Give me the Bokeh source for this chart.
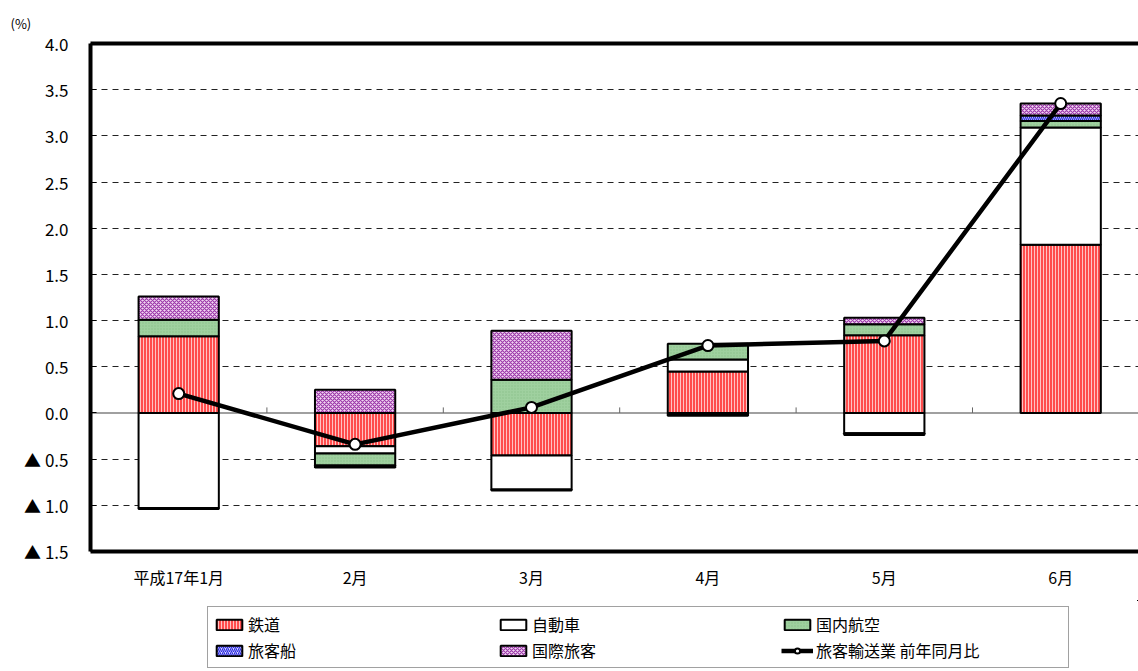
import numpy as np
from bokeh.plotting import figure
from bokeh.layouts import column
from bokeh.models import (Range1d, FixedTicker, CustomJSTickFormatter, LinearAxis,
                          Span, Legend, LegendItem)
from bokeh.embed import file_html
from bokeh.resources import INLINE

# ---- data ----
months = ["平成17年1月", "2月", "3月", "4月", "5月", "6月"]
rail   = [0.83, -0.36, -0.46, 0.45, 0.84, 1.82]    # 鉄道
auto   = [-1.03, -0.08, -0.37, 0.13, -0.22, 1.27]  # 自動車
air    = [0.18, -0.13, 0.36, 0.17, 0.12, 0.07]     # 国内航空
ship   = [-0.01, -0.02, -0.01, -0.01, -0.02, 0.06] # 旅客船
intl   = [0.25, 0.25, 0.53, -0.02, 0.07, 0.13]     # 国際旅客
total  = [0.21, -0.34, 0.06, 0.73, 0.78, 3.35]     # 旅客輸送業 前年同月比
series_names = ["鉄道", "自動車", "国内航空", "旅客船", "国際旅客"]
line_name = "旅客輸送業 前年同月比"
y_ticks = [-1.5, -1.0, -0.5, 0.0, 0.5, 1.0, 1.5, 2.0, 2.5, 3.0, 3.5, 4.0]

JP = "Noto Sans CJK JP"

styles = [
    dict(fill_color="#ff4d4d", hatch_pattern="|", hatch_color="#ffc4c4", hatch_scale=3, hatch_weight=1),
    dict(fill_color="white"),
    dict(fill_color="#9fd09f", hatch_pattern=".", hatch_color="#8cc08c", hatch_scale=3, hatch_weight=1),
    dict(fill_color="#d8d8ff", hatch_pattern="/", hatch_color="#2a2ae0", hatch_scale=4, hatch_weight=1.2),
    dict(fill_color="#f2d6f2", hatch_pattern="x", hatch_color="#9c3aaa", hatch_scale=4, hatch_weight=1.2),
]

x = np.arange(len(months))
W = 1138
H_MAIN, H_LEG = 600, 71
left, top, bottom = 90, 43, 49
px_per_cat = 176.4

p = figure(width=W, height=H_MAIN, output_backend="svg", toolbar_location=None,
           x_range=Range1d(-0.5, -0.5 + (W - left) / px_per_cat),
           y_range=Range1d(y_ticks[0], y_ticks[-1]),
           min_border_left=left, min_border_right=0, min_border_top=top, min_border_bottom=bottom,
           title="(%)")
p.outline_line_color = None
p.background_fill_color = "white"
p.title.align = "left"
p.title.offset = -80
p.title.text_font = JP
p.title.text_font_size = "13px"
p.title.text_font_style = "normal"
p.title.text_color = "black"
p.title.standoff = 21

# axes
p.yaxis.ticker = FixedTicker(ticks=y_ticks)
p.yaxis.formatter = CustomJSTickFormatter(
    code="return tick < 0 ? '\u25B2 ' + (-tick).toFixed(1) : tick.toFixed(1);")
p.yaxis.axis_line_width = 4
p.yaxis.axis_line_color = "black"
p.yaxis.major_tick_in = 6
p.yaxis.major_tick_out = 0
p.yaxis.minor_tick_line_color = None
p.yaxis.major_label_text_font = JP
p.yaxis.major_label_text_font_size = "17px"
p.yaxis.major_label_text_color = "black"
p.yaxis.major_label_standoff = 22

p.xaxis.ticker = FixedTicker(ticks=list(x))
p.xaxis.major_label_overrides = {int(i): m for i, m in zip(x, months)}
p.xaxis.axis_line_width = 4
p.xaxis.axis_line_color = "black"
p.xaxis.major_tick_in = 0
p.xaxis.major_tick_out = 0
p.xaxis.minor_tick_line_color = None
p.xaxis.major_label_text_font = JP
p.xaxis.major_label_text_font_size = "16px"
p.xaxis.major_label_text_color = "black"
p.xaxis.major_label_standoff = 13

top_axis = LinearAxis(ticker=FixedTicker(ticks=[]), axis_line_width=4, axis_line_color="black",
                      major_tick_line_color=None, minor_tick_line_color=None,
                      major_label_text_font_size="0px")
p.add_layout(top_axis, "above")

# grid
p.xgrid.grid_line_color = None
p.ygrid.ticker = FixedTicker(ticks=[t for t in y_ticks if t != 0.0])
p.ygrid.grid_line_color = "#222222"
p.ygrid.grid_line_width = 1
p.ygrid.grid_line_dash = "6 5"

zero = Span(location=0, dimension="width", line_color="#808080", line_width=1.5, level="underlay")
p.add_layout(zero)
# small tick marks on the zero line between categories
bx = x[:-1] + 0.5
p.segment(x0=bx, x1=bx, y0=np.zeros(len(bx)), y1=np.full(len(bx), 0.06),
          line_color="#666666", line_width=1)

# ---- legend strip: same series drawn in a figure whose view shows none of them ----
lf = figure(width=W, height=H_LEG, output_backend="svg", toolbar_location=None,
            x_axis_type=None, y_axis_type=None,
            x_range=Range1d(-100, -99), y_range=Range1d(-100, -99), min_border=0)
lf.outline_line_color = None

# stacked bars with separate positive / negative stacking
pos_base = np.zeros(len(x))
neg_base = np.zeros(len(x))
items = []
for n, vals, st in zip(series_names, [rail, auto, air, ship, intl], styles):
    v = np.array(vals)
    bottom_v = np.where(v >= 0, pos_base, neg_base + v)
    top_v = np.where(v >= 0, pos_base + v, neg_base)
    pos_base = pos_base + np.where(v >= 0, v, 0)
    neg_base = neg_base + np.where(v < 0, v, 0)
    p.vbar(x=x, width=0.455, bottom=bottom_v, top=top_v, line_color="black", line_width=2, **st)
    r = lf.vbar(x=x, width=0.455, bottom=bottom_v, top=top_v, line_color="black", line_width=2, **st)
    items.append(LegendItem(label=n, renderers=[r]))

p.line(x, total, line_color="black", line_width=4.5)
p.scatter(x, total, size=11, fill_color="white", line_color="black", line_width=2)
l1 = lf.line(x, total, line_color="black", line_width=4.5)
l2 = lf.scatter(x, total, size=11, fill_color="white", line_color="black", line_width=2)
items.append(LegendItem(label=line_name, renderers=[l1, l2]))

legend = Legend(items=items, location=(117, 3), orientation="horizontal", ncols=3,
                label_text_font=JP, label_text_font_size="16px", label_text_color="black",
                glyph_width=32, glyph_height=13, label_standoff=3, label_width=247,
                label_height=18, spacing=2, padding=5, margin=0,
                border_line_color="#444444", border_line_width=1,
                background_fill_color="white", background_fill_alpha=1.0)
lf.add_layout(legend, "center")

layout = column(p, lf, spacing=0)
open("out.html", "w").write(file_html(layout, INLINE))
